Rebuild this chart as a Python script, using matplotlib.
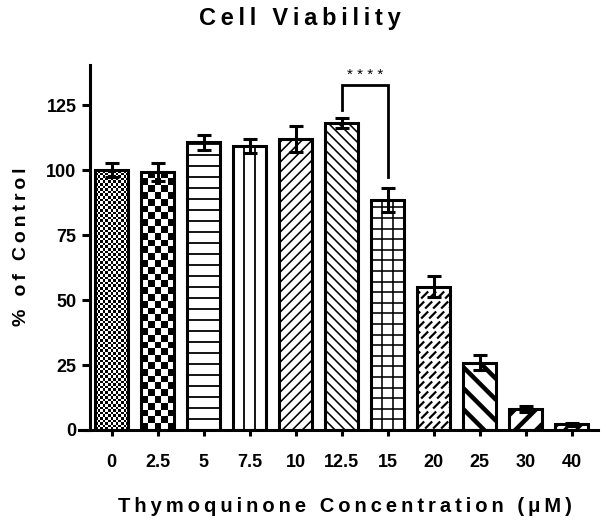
import numpy as np
import matplotlib
matplotlib.use("Agg")
import matplotlib.pyplot as plt
from matplotlib.collections import LineCollection, PolyCollection
from matplotlib.transforms import IdentityTransform

categories = ["0", "2.5", "5", "7.5", "10", "12.5", "15", "20", "25", "30", "40"]
values = [100, 99.3, 110.6, 109.2, 112, 118.2, 88.5, 55.1, 25.9, 8.1, 2.2]
errors = [2.8, 3.5, 3.0, 2.8, 5.0, 2.0, 4.7, 4.0, 2.8, 1.0, 0.5]
yticks = [0, 25, 50, 75, 100, 125]
sig_pair = (5, 6)
sig_levels = (123, 132.7, 97.3)
sig_text = "****"

FAM = ["Liberation Sans", "DejaVu Sans"]
TS = "\u2009"

def spaced(s, sep=TS):
    return sep.join(list(s))

DPI = 100
fig = plt.figure(figsize=(6.04, 5.28), dpi=DPI)
ax = fig.add_axes([90 / 604, 1 - 430 / 528, 508 / 604, 365 / 528])

x = np.arange(len(categories))
W = 0.72
faces = ax.bar(x, values, width=W, color="white", edgecolor="none", zorder=1)
ax.bar(x, values, width=W, fill=False, edgecolor="black", linewidth=2.2, zorder=3)
ax.errorbar(x, values, yerr=errors, fmt="none", ecolor="black", elinewidth=2.2,
            capsize=5, capthick=2.2, zorder=4)

ax.set_xlim(-0.47, len(categories) - 1 + 0.57)
ax.set_ylim(0, 140.4)

for s in ["top", "right"]:
    ax.spines[s].set_visible(False)
for s in ["left", "bottom"]:
    ax.spines[s].set_linewidth(2.2)
ax.spines["bottom"].set_bounds(-0.7, len(categories) - 1 + 0.57)

ax.set_xticks(x)
ax.set_xticklabels(categories, fontfamily=FAM, fontweight="bold", fontsize=13)
ax.set_yticks(yticks)
ax.set_yticklabels([str(t) for t in yticks], fontfamily=FAM, fontweight="bold",
                   fontsize=13)
ax.tick_params(axis="x", length=4.5, width=2.2, pad=13)
ax.tick_params(axis="y", length=5.8, width=2.2, pad=4)

px = 72.0 / DPI  # points per pixel

def bar_box(b):
    x0, y0 = ax.transData.transform((b.get_x(), 0))
    x1, y1 = ax.transData.transform((b.get_x() + b.get_width(), b.get_height()))
    return x0, y0, x1, y1

def add_lines(b, segs, lw_px):
    lc = LineCollection(segs, colors="black", linewidths=lw_px * px,
                        transform=IdentityTransform(), zorder=2)
    ax.add_collection(lc, autolim=False)
    lc.set_clip_path(b)

def hlines(b, sp, lw):
    x0, y0, x1, y1 = bar_box(b)
    segs = [[(x0, y), (x1, y)] for y in np.arange(y0 + sp, y1, sp)]
    add_lines(b, segs, lw)

def vlines(b, sp, lw):
    x0, y0, x1, y1 = bar_box(b)
    cx = (x0 + x1) / 2
    xs = np.arange(cx - sp / 2 - sp * 3, x1, sp)
    segs = [[(xx, y0), (xx, y1)] for xx in xs]
    add_lines(b, segs, lw)

def diag(b, sp, lw, sign=1, phase=0.0):
    x0, y0, x1, y1 = bar_box(b)
    w = x1 - x0
    segs = []
    start = y0 - w - sp + phase
    for c in np.arange(start, y1 + w + sp, sp):
        if sign > 0:
            segs.append([(x0, c), (x1, c + w)])
        else:
            segs.append([(x0, c + w), (x1, c)])
    add_lines(b, segs, lw)

def grid(b, sp, lw):
    hlines(b, sp, lw)
    vlines(b, sp, lw)

def checker(b, s):
    x0, y0, x1, y1 = bar_box(b)
    polys = []
    for i, xx in enumerate(np.arange(x0, x1, s)):
        for j, yy in enumerate(np.arange(y0, y1, s)):
            if (i + j) % 2 == 0:
                polys.append([(xx, yy), (xx + s, yy), (xx + s, yy + s), (xx, yy + s)])
    pc = PolyCollection(polys, facecolors="black", edgecolors="none",
                        transform=IdentityTransform(), zorder=2)
    ax.add_collection(pc, autolim=False)
    pc.set_clip_path(b)

def herring(b, h, p, lw):
    x0, y0, x1, y1 = bar_box(b)
    segs = []
    for j, yy in enumerate(np.arange(y0, y1, h)):
        off = (j % 2) * p / 2
        for xx in np.arange(x0 - 2 * p + off, x1 + p, p):
            segs.append([(xx, yy + 1.5), (xx + h - 3, yy + h - 1.5)])
    add_lines(b, segs, lw)

bars = list(faces)
checker(bars[0], 2.6)
checker(bars[1], 6.8)
hlines(bars[2], 11, 1.8)
vlines(bars[3], 11, 1.8)
diag(bars[4], 10, 1.6, sign=1)
diag(bars[5], 10, 1.6, sign=-1)
grid(bars[6], 10.6, 1.6)
herring(bars[7], 10, 8, 2.2)
diag(bars[8], 21, 4.5, sign=-1)
diag(bars[9], 21, 4.5, sign=1, phase=6)
diag(bars[10], 12, 3, sign=1)

# significance bracket
a, bidx = sig_pair
l1, top, l2 = sig_levels
ax.plot([x[a], x[a], x[bidx], x[bidx]], [l1, top, top, l2], color="black",
        linewidth=2.0, solid_joinstyle="miter", clip_on=False, zorder=5)
ax.text((x[a] + x[bidx]) / 2, top + 1.2, spaced(sig_text, " "), ha="center",
        va="bottom", fontsize=11, fontfamily=FAM)

fig.text(300 / 604, 1 - 18 / 528, spaced("Cell Viability"), ha="center", va="center",
         fontsize=17, fontweight="bold", fontfamily=FAM)
fig.text(345 / 604, 1 - 506 / 528, spaced("Thymoquinone Concentration (\u03bcM)"),
         ha="center", va="center", fontsize=14.5, fontweight="bold", fontfamily=FAM)
fig.text(22 / 604, 1 - 247 / 528, spaced("% of Control"), ha="center", va="center",
         rotation=90, fontsize=14, fontweight="bold", fontfamily=FAM)

fig.savefig("out.png", dpi=DPI, facecolor="white")
